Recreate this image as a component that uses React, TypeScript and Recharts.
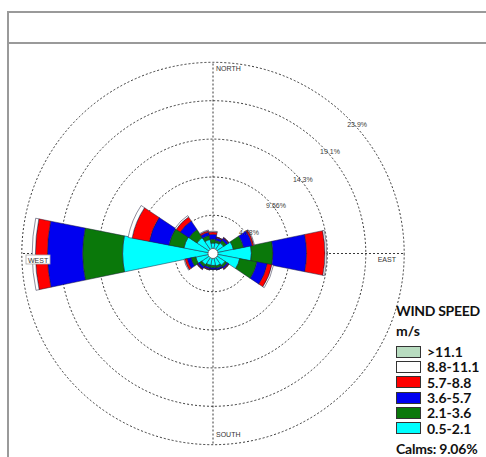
import {
  RadialBarChart,
  RadialBar,
  PolarGrid,
  PolarAngleAxis,
  PolarRadiusAxis,
} from 'recharts';

// 16 compass sectors, clockwise from north
const DIRECTIONS = ['N', 'NNE', 'NE', 'ENE', 'E', 'ESE', 'SE', 'SSE', 'S', 'SSW', 'SW', 'WSW', 'W', 'WNW', 'NW', 'NNW'];

// frequency (%) per speed class and direction
const SPEED_0_5_2_1 = [1.3, 1.4, 1.6, 2.6, 4.8, 3.4, 1.8, 1.6, 1.5, 1.5, 1.7, 2.2, 11.3, 3.7, 2.4, 1.8];
const SPEED_2_1_3_6 = [0.5, 0.3, 0.4, 1.3, 2.7, 2.2, 0.3, 0.3, 0.3, 0.3, 0.3, 0.6, 5.0, 1.9, 1.2, 0.5];
const SPEED_3_6_5_7 = [0.6, 0.3, 0.3, 1.1, 4.2, 1.3, 0.2, 0.2, 0.2, 0.2, 0.3, 0.5, 4.4, 2.5, 1.3, 0.4];
const SPEED_5_7_8_8 = [0.3, 0.1, 0.1, 0.2, 2.3, 0.6, 0.1, 0.0, 0.0, 0.1, 0.1, 0.3, 1.5, 2.2, 0.6, 0.2];
const SPEED_8_8_11_1 = [0.1, 0.0, 0.0, 0.1, 0.2, 0.2, 0.0, 0.0, 0.0, 0.0, 0.0, 0.1, 0.4, 0.5, 0.2, 0.1];

const RING_TICKS = [4.78, 9.56, 14.3, 19.1, 23.9];
const CALMS = 9.06;

const COMPASS_NAMES: Record<string, string> = { N: 'NORTH', E: 'EAST', S: 'SOUTH', W: 'WEST' };

const SPEED_CLASSES = [
  { key: 'c1', label: '0.5-2.1', color: '#00ffff', values: SPEED_0_5_2_1 },
  { key: 'c2', label: '2.1-3.6', color: '#0a780a', values: SPEED_2_1_3_6 },
  { key: 'c3', label: '3.6-5.7', color: '#0000f0', values: SPEED_3_6_5_7 },
  { key: 'c4', label: '5.7-8.8', color: '#ff0000', values: SPEED_5_7_8_8 },
  { key: 'c5', label: '8.8-11.1', color: '#ffffff', values: SPEED_8_8_11_1 },
];

const LEGEND_ROWS = [
  { label: '>11.1', color: '#b8dcc0' },
  ...SPEED_CLASSES.slice().reverse(),
];

const data = DIRECTIONS.map((dir, i) => {
  const row: Record<string, string | number> = { dir };
  SPEED_CLASSES.forEach((c) => {
    row[c.key] = c.values[i];
  });
  return row;
});

const CX = 213;
const CY = 253.5;
const OUTER = 192;
const SECTOR = 360 / DIRECTIONS.length;
// band scale puts category start at startAngle, so shift back half a sector to centre N on 90°
const START_ANGLE = 90 - SECTOR / 2;

const LABEL_FONT = "Arial, 'Liberation Sans', sans-serif";

const RingTick = (props: any) => {
  const { x, y, payload } = props;
  return (
    <text x={x - 1} y={y + 9} fontSize={7} fill="#3a3a3a" fontFamily={LABEL_FONT}>
      {`${payload.value}%`}
    </text>
  );
};

// only the four cardinal points get a label, just inside the outer ring
const CompassTick = (props: any) => {
  const { payload } = props;
  const name = COMPASS_NAMES[payload.value];
  if (!name) return null;
  const cx = props.cx ?? CX;
  const cy = props.cy ?? CY;
  const r = props.radius ?? OUTER;
  const angle = 90 - DIRECTIONS.indexOf(payload.value) * SECTOR;
  const rad = (angle * Math.PI) / 180;
  const px = cx + r * Math.cos(rad);
  const py = cy - r * Math.sin(rad);
  const font = { fontSize: 7, fill: '#333', fontFamily: LABEL_FONT };
  if (name === 'NORTH') return <text x={px + 3} y={py + 9} {...font}>{name}</text>;
  if (name === 'SOUTH') return <text x={px + 3} y={py - 9} {...font}>{name}</text>;
  if (name === 'EAST') return <text x={px - 9} y={py + 8} textAnchor="end" {...font}>{name}</text>;
  return (
    <g>
      <rect x={px + 5} y={py + 1.5} width={24} height={9} fill="#fff" stroke="#aaa" strokeWidth={0.8} />
      <text x={px + 7} y={py + 9} {...font}>{name}</text>
    </g>
  );
};

export default function App() {
  return (
    <div style={{ position: 'absolute', left: 0, top: 0, width: 486, height: 457, overflow: 'hidden', background: '#fff' }}>
      {/* frame + empty title strip */}
      <div style={{ position: 'absolute', left: 7, top: 11, width: 520, height: 480, border: '2px solid #9a9a9a' }} />
      <div style={{ position: 'absolute', left: 7, top: 42, width: 520, height: 0, borderTop: '2px solid #9a9a9a' }} />

      <div style={{ position: 'absolute', left: 0, top: 0 }}>
        <RadialBarChart
          width={486}
          height={457}
          data={data}
          cx={CX}
          cy={CY}
          innerRadius={0}
          outerRadius={OUTER}
          startAngle={START_ANGLE}
          endAngle={START_ANGLE - 360}
          layout="centric"
          barCategoryGap={0}
          barGap={0}
          margin={{ top: 0, right: 0, bottom: 0, left: 0 }}
        >
          <PolarGrid
            gridType="circle"
            polarAngles={[90, 0, -90, 180]}
            stroke="#222"
            strokeDasharray="2 2"
            strokeWidth={0.9}
          />
          {SPEED_CLASSES.map((c) => (
            <RadialBar
              key={c.key}
              dataKey={c.key}
              stackId="rose"
              fill={c.color}
              stroke="#1c1c3a"
              strokeWidth={0.5}
              isAnimationActive={false}
            />
          ))}
          <PolarAngleAxis
            dataKey="dir"
            type="category"
            axisLine={false}
            tickLine={false}
            tick={<CompassTick />}
          />
          <PolarRadiusAxis
            type="number"
            domain={[0, 23.9]}
            ticks={RING_TICKS}
            angle={45}
            axisLine={false}
            tickLine={false}
            tick={<RingTick />}
          />
        </RadialBarChart>
      </div>

      {/* calms circle */}
      <svg style={{ position: 'absolute', left: 0, top: 0 }} width={486} height={457}>
        <circle cx={CX} cy={CY} r={5} fill="#fff" stroke="#555" strokeWidth={0.8} />
      </svg>

      <div
        style={{
          position: 'absolute',
          left: 396,
          top: 302,
          fontFamily: 'Lato, sans-serif',
          fontWeight: 700,
          fontSize: 14,
          color: '#111',
          whiteSpace: 'nowrap',
        }}
      >
        <div style={{ lineHeight: '17px', letterSpacing: -0.3 }}>WIND SPEED</div>
        <div style={{ lineHeight: '17px', marginTop: 3, marginBottom: 5 }}>m/s</div>
        {LEGEND_ROWS.map((r) => (
          <div key={r.label} style={{ display: 'flex', alignItems: 'center', height: 15.3 }}>
            <span
              style={{
                display: 'inline-block',
                width: 23,
                height: 10,
                background: r.color,
                border: '1px solid #333',
                marginRight: 6,
              }}
            />
            <span style={{ lineHeight: '13px', fontSize: 14 }}>{r.label}</span>
          </div>
        ))}
        <div style={{ lineHeight: '16px', marginTop: 5, letterSpacing: -0.2 }}>{`Calms: ${CALMS}%`}</div>
      </div>
    </div>
  );
}
